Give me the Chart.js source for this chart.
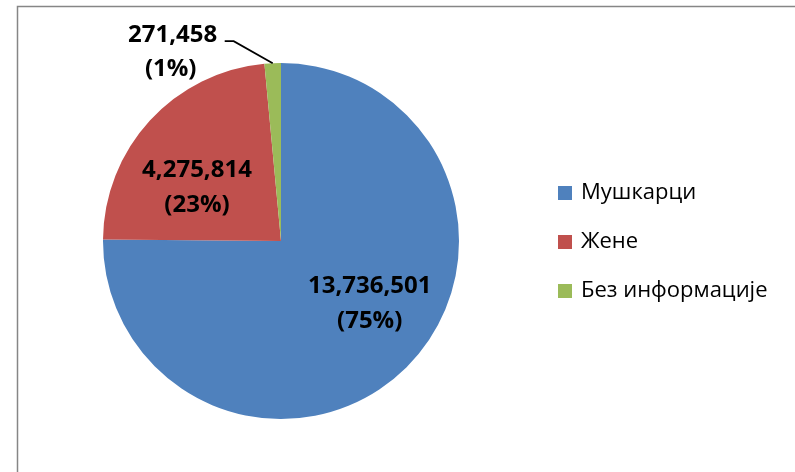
<!DOCTYPE html>
<html>
<head>
<meta charset="utf-8">
<script src="https://cdn.jsdelivr.net/npm/chart.js@4"></script>
<style>
  body { margin: 0; background: #fff; }
  #wrap { position: relative; width: 795px; height: 472px; }
</style>
</head>
<body>
<div id="wrap"><canvas id="myChart" width="795" height="472"></canvas></div>
<script>
// data
var labels = ["Мушкарци", "Жене", "Без информације"];
var values = [13736501, 4275814, 271458];
var percents = ["75%", "23%", "1%"];
var colors = ["#4F81BD", "#C0504D", "#9BBB59"];

function fmt(n){
    return n.toString().replace(/\B(?=(\d{3})+(?!\d))/g, ",");
}

// grey frame lines (top + left), like the excel chart area border
var framePlugin = {
    id: "frame",
    beforeDraw: function(chart){
        var c = chart.ctx;
        c.save();
        c.strokeStyle = "#868686";
        c.lineWidth = 1.5;
        c.beginPath();
        c.moveTo(17.5, chart.height);
        c.lineTo(17.5, 6.5);
        c.lineTo(chart.width, 6.5);
        c.stroke();
        c.restore();
    }
};

// data labels: inside for big slices, outside with leader line for the small one
var labelPlugin = {
    id: "sliceLabels",
    afterDatasetsDraw: function(chart){
        var c = chart.ctx;
        var arcs = chart.getDatasetMeta(0).data;
        c.save();
        c.font = "bold 24px 'Open Sans'";
        c.fillStyle = "#000";
        c.textAlign = "center";
        c.textBaseline = "middle";
        var shift = -10 * Math.PI / 180;
        var factors = [0.61, 0.56];
        arcs.forEach(function(arc, i){
            var p = arc.getProps(["x", "y", "startAngle", "endAngle", "outerRadius"], true);
            var mid = (p.startAngle + p.endAngle) / 2;
            var t1 = fmt(values[i]);
            var t2 = "(" + percents[i] + ")";
            if(i < 2){
                var r = p.outerRadius * factors[i];
                var lx = p.x + Math.cos(mid + shift) * r;
                var ly = p.y + Math.sin(mid + shift) * r;
                c.fillText(t1, lx, ly - 17);
                c.fillText(t2, lx, ly + 18);
            } else {
                var ox = p.x + Math.cos(mid) * p.outerRadius;
                var oy = p.y + Math.sin(mid) * p.outerRadius;
                var ex = ox - 39, ey = oy - 22;
                c.strokeStyle = "#000";
                c.lineWidth = 1.8;
                c.beginPath();
                c.moveTo(ox, oy);
                c.lineTo(ex, ey);
                c.lineTo(ex - 9, ey);
                c.stroke();
                var tx = ex - 61;
                c.fillText(t1, tx, ey - 6);
                c.fillText(t2, tx - 2, ey + 28);
            }
        });
        c.restore();
    }
};

// legend on the right
var legendPlugin = {
    id: "sideLegend",
    afterDraw: function(chart){
        var c = chart.ctx;
        c.save();
        c.font = "22px 'Open Sans'";
        c.textAlign = "left";
        c.textBaseline = "middle";
        labels.forEach(function(lab, i){
            var y = 193 + i * 49;
            c.fillStyle = colors[i];
            c.fillRect(558, y - 7, 14, 14);
            c.fillStyle = "#000";
            c.fillText(lab, 581, y);
        });
        c.restore();
    }
};

var ctx = document.getElementById("myChart").getContext("2d");
var myChart = new Chart(ctx, {
    type: "pie",
    data: {
        labels: labels,
        datasets: [{
            data: values,
            backgroundColor: colors,
            borderWidth: 0
        }]
    },
    options: {
        responsive: false,
        animation: false,
        layout: { padding: { left: 103, right: 336, top: 63, bottom: 53 } },
        plugins: {
            legend: { display: false },
            tooltip: { enabled: false }
        }
    },
    plugins: [framePlugin, labelPlugin, legendPlugin]
});
</script>
</body>
</html>
